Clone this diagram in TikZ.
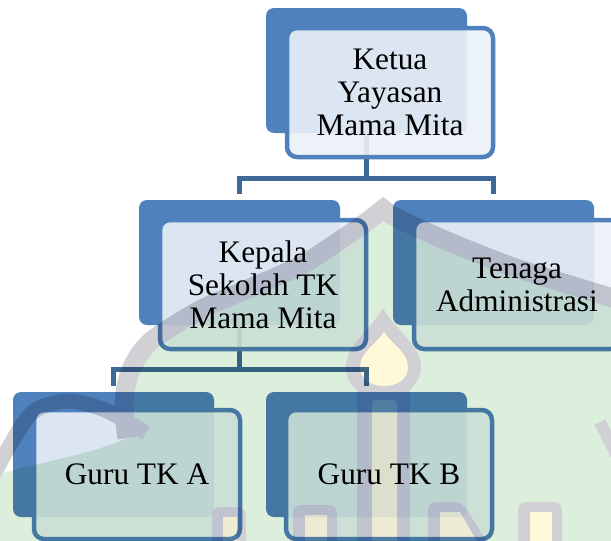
\documentclass[tikz,border=0pt]{standalone}
\usepackage{fontspec}
\setmainfont{Liberation Serif}
\definecolor{accent}{RGB}{79,129,189}
\definecolor{linkblue}{RGB}{62,104,150}
\definecolor{paneltint}{RGB}{236,240,248}
\definecolor{wmgreen}{RGB}{220,238,220}
\definecolor{wmgray}{RGB}{208,208,213}
\definecolor{wmyellow}{RGB}{255,249,218}

\tikzset{
  backbox/.style={anchor=north west, minimum width=201pt, minimum height=125pt,
    inner sep=0pt, outer sep=0pt, rounded corners=8pt, fill=accent},
  frontbox/.style={anchor=north west, minimum width=206pt, minimum height=129pt,
    inner sep=0pt, outer sep=0pt, rounded corners=10pt, draw=accent,
    line width=4.5pt, fill=paneltint, fill opacity=0.9, text opacity=1,
    align=center, font=\fontsize{31.3}{33}\selectfont},
  link/.style={draw=linkblue, line width=5pt, shorten >=6pt},
}

\begin{document}
\begin{tikzpicture}[x=1pt,y=-1pt]
\useasboundingbox (0,0) rectangle (611,541);
\fill[white] (0,0) rectangle (611,541);

% back tabs
\node[backbox] (kb)  at (266,8)   {};
\node[backbox] (pb)  at (139,200) {};
\node[backbox] (tb)  at (393,200) {};
\node[backbox] (gab) at (13,392)  {};
\node[backbox] (gbb) at (266,392) {};

% connectors
\draw[link] (kb.south) -- ++(0,45.5) -| (pb.north);
\draw[link] (kb.south) -- ++(0,45.5) -| (tb.north);
\draw[link] (pb.south) -- ++(0,44.5) -| (gab.north);
\draw[link] (pb.south) -- ++(0,44.5) -| (gbb.north);

% front panels with labels
\node[frontbox] (kf)  at (287,28)  {Ketua\\Yayasan\\Mama Mita};
\node[frontbox] (pf)  at (160,220) {Kepala\\Sekolah TK\\Mama Mita};
\node[frontbox] (tf)  at (414,220) {Tenaga\\Administrasi};
\node[frontbox] (gaf) at (34,410)  {Guru TK A};
\node[frontbox] (gbf) at (286,410) {Guru TK B};

% faint logo printed over the chart: painted normally inside a group,
% the group itself multiplied onto the page
\begin{scope}[blend mode=multiply]
\begin{scope}[transparency group]
  \fill[wmgreen] (0,541) -- (0,474) .. controls (40,462) and (90,455) .. (127,438)
    -- plot[smooth] coordinates {(127,438) (124,405) (130,372) (150,342) (200,310)
      (250,288) (300,266) (333,245) (365,223) (383,209)}
    -- plot[smooth] coordinates {(383,209) (397,218) (447,241) (513,267)
      (580,288) (616,299)}
    -- (616,541) -- cycle;
  \draw[wmgray, line width=19pt, line join=miter]
    plot[smooth] coordinates {(127,438) (124,405) (130,372) (150,342) (200,310)
      (250,288) (300,266) (333,245) (365,223) (383,209)}
    -- plot[smooth] coordinates {(383,209) (397,218) (447,241) (513,267)
      (580,288) (616,299)};
  \draw[wmgray, line width=15pt]
    plot[smooth] coordinates {(-8,478) (10,445) (33,412) (67,401) (105,410) (146,433)};
  \draw[wmgray, line width=12pt] (600,422) -- (618,458);
  % flame and its column
  \fill[wmgray] (383,308) .. controls (395,330) and (421,345) .. (421,367)
    .. controls (421,380) and (412,387) .. (410,390) -- (410,545) -- (357,545)
    -- (357,390) .. controls (350,385) and (346,378) .. (346,367)
    .. controls (346,345) and (371,330) .. (383,308) -- cycle;
  \fill[wmyellow] (384,332) .. controls (392,345) and (408,352) .. (408,367)
    .. controls (408,380) and (396,386) .. (384,386)
    .. controls (372,386) and (360,380) .. (360,367)
    .. controls (360,352) and (376,345) .. (384,332) -- cycle;
  \fill[wmyellow, rounded corners=4pt] (372,400) rectangle (397,550);
  % lower bars
  \fill[wmgray, rounded corners=8pt] (212,507) rectangle (246,555);
  \fill[wmyellow] (223,517) rectangle (237,545);
  \fill[wmgray, rounded corners=8pt] (293,505) rectangle (337,555);
  \fill[wmyellow] (305,515) rectangle (327,545);
  \fill[wmgray, rounded corners=8pt] (428,555) -- (428,502) -- (462,502) -- (495,555) -- cycle;
  \fill[wmyellow] (440,545) -- (440,512) -- (460,512) -- (479,545) -- cycle;
  \fill[wmgray, rounded corners=8pt] (518,502) rectangle (562,555);
  \fill[wmyellow] (530,512) rectangle (552,545);
\end{scope}
\end{scope}
\end{tikzpicture}
\end{document}
